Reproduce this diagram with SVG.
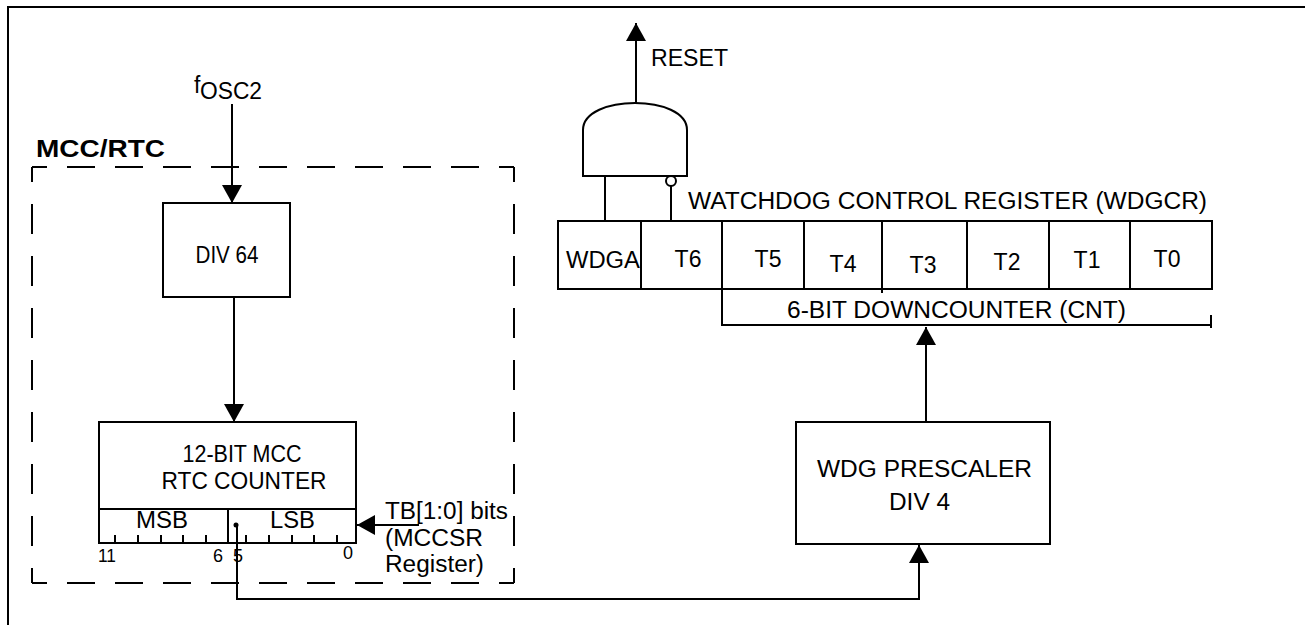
<svg xmlns="http://www.w3.org/2000/svg" width="1305" height="625" viewBox="0 0 1305 625">
<style>
text{font-family:"Liberation Sans",Arial,sans-serif;font-size:23px;fill:#000}
.box{fill:#fff;stroke:#000;stroke-width:2}
.ln{fill:none;stroke:#000;stroke-width:2}
.dash{fill:none;stroke:#000;stroke-width:2;stroke-dasharray:30 22}
.dashh{fill:none;stroke:#000;stroke-width:2;stroke-dasharray:28 20}
.num{font-size:18px}
.mid{text-anchor:middle}
</style>
<defs>
<marker id="ah" viewBox="0 0 18 20" refX="18" refY="10" markerWidth="18" markerHeight="20" markerUnits="userSpaceOnUse" orient="auto">
<path d="M0,0 L18,10 L0,20 Z" fill="#000"/>
</marker>
</defs>
<rect width="1305" height="625" fill="#fff"/>
<path class="ln" d="M1305,7 H8 V625" stroke-width="2.5"/>

<g id="mcc-rtc">
<text x="36" y="157" font-weight="bold" font-size="23" textLength="129" lengthAdjust="spacingAndGlyphs">MCC/RTC</text>
<line class="dashh" x1="32" y1="167" x2="514" y2="167" stroke-dashoffset="13"/>
<line class="dashh" x1="32" y1="583" x2="514" y2="583" stroke-dashoffset="13"/>
<line class="dash" x1="32" y1="167" x2="32" y2="583" stroke-dashoffset="15"/>
<line class="dash" x1="514" y1="167" x2="514" y2="583" stroke-dashoffset="15"/>
</g>

<g id="fosc2">
<text x="194" y="93">f</text>
<text x="200" y="99" font-size="21" textLength="62" lengthAdjust="spacingAndGlyphs">OSC2</text>
</g>

<g id="div64">
<rect class="box" x="163" y="203" width="127" height="94"/>
<text x="227" y="263" class="mid" textLength="63" lengthAdjust="spacingAndGlyphs">DIV 64</text>
</g>

<g id="mcc-counter">
<rect class="box" x="99" y="422" width="257" height="121"/>
<line class="ln" x1="99" y1="509" x2="356" y2="509"/>
<line class="ln" x1="228" y1="509" x2="228" y2="543"/>
<path class="ln" d="M115,543 V535 M138,543 V535 M161,543 V535 M183,543 V535 M206,543 V535 M246,543 V535 M269,543 V535 M292,543 V535 M314,543 V535 M337,543 V535"/>
<text x="242" y="462" class="mid" textLength="119" lengthAdjust="spacingAndGlyphs">12-BIT MCC</text>
<text x="244" y="489" class="mid" textLength="165" lengthAdjust="spacingAndGlyphs">RTC COUNTER</text>
<text x="136" y="528" textLength="52" lengthAdjust="spacingAndGlyphs">MSB</text>
<text x="270" y="528" textLength="45" lengthAdjust="spacingAndGlyphs">LSB</text>
<text x="98" y="562" class="num" textLength="18" lengthAdjust="spacingAndGlyphs">11</text>
<text x="213" y="562" class="num">6</text>
<text x="233" y="562" class="num">5</text>
<text x="343" y="559" class="num">0</text>
<circle cx="236" cy="525" r="2.5" fill="#000"/>
</g>

<g id="tb-label">
<text x="385" y="519" textLength="123" lengthAdjust="spacingAndGlyphs">TB[1:0] bits</text>
<text x="385" y="546" textLength="98" lengthAdjust="spacingAndGlyphs">(MCCSR</text>
<text x="385" y="572" textLength="99" lengthAdjust="spacingAndGlyphs">Register)</text>
</g>

<g id="and-gate">
<path class="box" d="M583,176 V130 C583,94 687,94 687,130 V176 Z"/>
<circle class="box" cx="671" cy="181" r="5"/>
</g>

<g id="reset">
<text x="651" y="66" font-size="23" textLength="77" lengthAdjust="spacingAndGlyphs">RESET</text>
</g>

<g id="wdgcr">
<text x="688" y="209" textLength="519" lengthAdjust="spacingAndGlyphs">WATCHDOG CONTROL REGISTER (WDGCR)</text>
<rect class="box" x="558" y="221" width="654" height="68"/>
<path class="ln" d="M641,221 V289 M722,221 V289 M804,221 V289 M882,221 V293 M967,221 V289 M1049,221 V289 M1130,221 V289"/>
<text x="566" y="268" textLength="74" lengthAdjust="spacingAndGlyphs">WDGA</text>
<text x="688" y="267" class="mid">T6</text>
<text x="768" y="267" class="mid">T5</text>
<text x="843" y="272" class="mid">T4</text>
<text x="923" y="273" class="mid">T3</text>
<text x="1007" y="270" class="mid">T2</text>
<text x="1087" y="268" class="mid">T1</text>
<text x="1167" y="267" class="mid">T0</text>
</g>

<g id="downcounter">
<path class="ln" d="M722,289 V325 H1212 M1211,315 V328"/>
<text x="787" y="318" textLength="339" lengthAdjust="spacingAndGlyphs">6-BIT DOWNCOUNTER (CNT)</text>
</g>

<g id="wdg-prescaler">
<rect class="box" x="796" y="422" width="254" height="122"/>
<text x="817" y="477" textLength="215" lengthAdjust="spacingAndGlyphs">WDG PRESCALER</text>
<text x="889" y="510" textLength="61" lengthAdjust="spacingAndGlyphs">DIV 4</text>
</g>

<g id="connectors">
<line class="ln" x1="232" y1="104" x2="232" y2="203" marker-end="url(#ah)"/>
<line class="ln" x1="234" y1="297" x2="234" y2="422" marker-end="url(#ah)"/>
<line class="ln" x1="419" y1="525" x2="357" y2="525" marker-end="url(#ah)"/>
<path class="ln" d="M237,525 V599 H919 V545" marker-end="url(#ah)"/>
<line class="ln" x1="926" y1="422" x2="926" y2="327" marker-end="url(#ah)"/>
<line class="ln" x1="636" y1="103" x2="636" y2="23" marker-end="url(#ah)"/>
<line class="ln" x1="605" y1="221" x2="605" y2="176"/>
<line class="ln" x1="671" y1="221" x2="671" y2="186"/>
</g>
</svg>
